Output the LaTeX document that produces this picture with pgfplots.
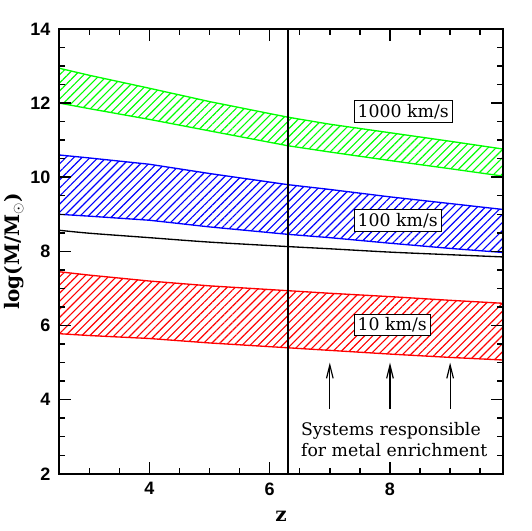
\documentclass[border=0pt]{standalone}
\usepackage{fontspec}
\setmainfont{DejaVu Serif}
\setsansfont{Liberation Sans}
\usepackage{pgfplots}
\pgfplotsset{compat=1.18}
\usetikzlibrary{patterns.meta,arrows.meta}

% bands: upper edge left->right, then lower edge right->left
\pgfplotstableread{
x      gu     gl     bu     bl     k      ru    rl
2.5   12.94  12.00  10.60  9.00   8.57   7.45  5.78
3.0   12.75  11.85  10.52  8.95   8.49   7.36  5.73
4.0   12.40  11.56  10.35  8.84   8.37   7.20  5.65
5.0   12.04  11.25  10.10  8.66   8.25   7.07  5.53
6.3   11.62  10.85   9.80  8.46   8.13   6.94  5.40
7.0   11.43  10.68   9.67  8.37   8.07   6.87  5.33
8.0   11.20  10.45   9.47  8.22   7.98   6.78  5.23
9.0   10.97  10.23   9.29  8.08   7.91   6.68  5.14
9.88  10.76  10.03   9.13  7.97   7.85   6.60  5.07
}\bands

\tikzset{
  band/.style={line width=1pt, draw=#1,
    pattern={Lines[angle=45,distance=4.3pt,line width=0.85pt]}, pattern color=#1},
  lbl/.style={draw=black, fill=white, line width=0.7pt, anchor=west,
    inner sep=2.5pt, font=\fontsize{13}{15}\selectfont},
  arr/.style={line width=0.9pt, -{Straight Barb[length=10pt,width=5pt]}},
  tk/.style={black, line width=1pt},
}

\begin{document}
\begin{tikzpicture}
\begin{axis}[
    scale only axis, width=333.75pt, height=334.5pt,
    xmin=2.5, xmax=9.88, ymin=2, ymax=14,
    xtick={4,6,8}, ytick={2,4,...,14},
    minor xtick={3,3.5,...,9.5}, minor ytick={2.5,3,...,13.5},
    tick pos=both, axis on top,
    tick align=inside, major tick length=9pt, minor tick length=4.5pt,
    axis line style={line width=1.5pt},
    every tick/.style={black, line width=1.1pt},
    /pgf/number format/assume math mode=true,
    tick label style={font=\sffamily\bfseries\fontsize{13.5}{15}\selectfont},
    yticklabel style={xshift=-3pt},
    xticklabel style={yshift=-3pt},
    xlabel={\textbf{z}},
    ylabel={\textbf{log(M/M$_\odot$)}},
    xlabel style={font=\fontsize{15}{17}\selectfont, yshift=-5pt},
    ylabel style={font=\fontsize{15}{17}\selectfont, yshift=-2pt},
    clip=true,
  ]
  \addplot[band=green] table[x=x,y=gu] {\bands}
    -- (axis cs:9.88,10.03) -- (axis cs:9.0,10.23) -- (axis cs:8.0,10.45)
    -- (axis cs:7.0,10.68) -- (axis cs:6.3,10.85) -- (axis cs:5.0,11.25)
    -- (axis cs:4.0,11.56) -- (axis cs:3.0,11.85) -- (axis cs:2.5,12.00) -- cycle;
  \addplot[band=blue] table[x=x,y=bu] {\bands}
    -- (axis cs:9.88,7.97) -- (axis cs:9.0,8.08) -- (axis cs:8.0,8.22)
    -- (axis cs:7.0,8.37) -- (axis cs:6.3,8.46) -- (axis cs:5.0,8.66)
    -- (axis cs:4.0,8.84) -- (axis cs:3.0,8.95) -- (axis cs:2.5,9.00) -- cycle;
  \addplot[band=red] table[x=x,y=ru] {\bands}
    -- (axis cs:9.88,5.07) -- (axis cs:9.0,5.14) -- (axis cs:8.0,5.23)
    -- (axis cs:7.0,5.33) -- (axis cs:6.3,5.40) -- (axis cs:5.0,5.53)
    -- (axis cs:4.0,5.65) -- (axis cs:3.0,5.73) -- (axis cs:2.5,5.78) -- cycle;
  \addplot[black, line width=1pt, smooth] table[x=x,y=k] {\bands};

  \draw[line width=1.2pt] (axis cs:6.3,2) -- (axis cs:6.3,14);

  % tick marks on all four sides, absolute axis coordinates
  % (9pt = 0.323 y-units = 0.199 x-units)
  \pgfplotsinvokeforeach{3,3.5,...,9.5}{
    \draw[tk] (axis cs:#1,2) -- (axis cs:#1,2.161);
    \draw[tk] (axis cs:#1,14) -- (axis cs:#1,13.839);
  }
  \pgfplotsinvokeforeach{4,6,8}{
    \draw[tk] (axis cs:#1,2) -- (axis cs:#1,2.323);
    \draw[tk] (axis cs:#1,14) -- (axis cs:#1,13.677);
  }
  \pgfplotsinvokeforeach{2.5,3,...,13.5}{
    \draw[tk] (axis cs:2.5,#1) -- (axis cs:2.6,#1);
    \draw[tk] (axis cs:9.88,#1) -- (axis cs:9.78,#1);
  }
  \pgfplotsinvokeforeach{4,6,...,12}{
    \draw[tk] (axis cs:2.5,#1) -- (axis cs:2.699,#1);
    \draw[tk] (axis cs:9.88,#1) -- (axis cs:9.681,#1);
  }

  \node[lbl] at (axis cs:7.4,11.77) {1000 km/s};
  \node[lbl] at (axis cs:7.4,8.83) {100 km/s};
  \node[lbl] at (axis cs:7.4,6.01) {10 km/s};

  \draw[arr] (axis cs:7,3.75) -- (axis cs:7,5.0);
  \draw[arr] (axis cs:8,3.75) -- (axis cs:8,5.0);
  \draw[arr] (axis cs:9,3.75) -- (axis cs:9,5.0);
  \node[align=left, font=\fontsize{13}{16}\selectfont] at (axis cs:8.07,2.92)
    {Systems responsible\\for metal enrichment};
\end{axis}
\path ([shift={(-43.5pt,-42.75pt)}]current axis.south west)
  rectangle ([shift={(21.75pt,21.75pt)}]current axis.north east);
\end{tikzpicture}
\end{document}
